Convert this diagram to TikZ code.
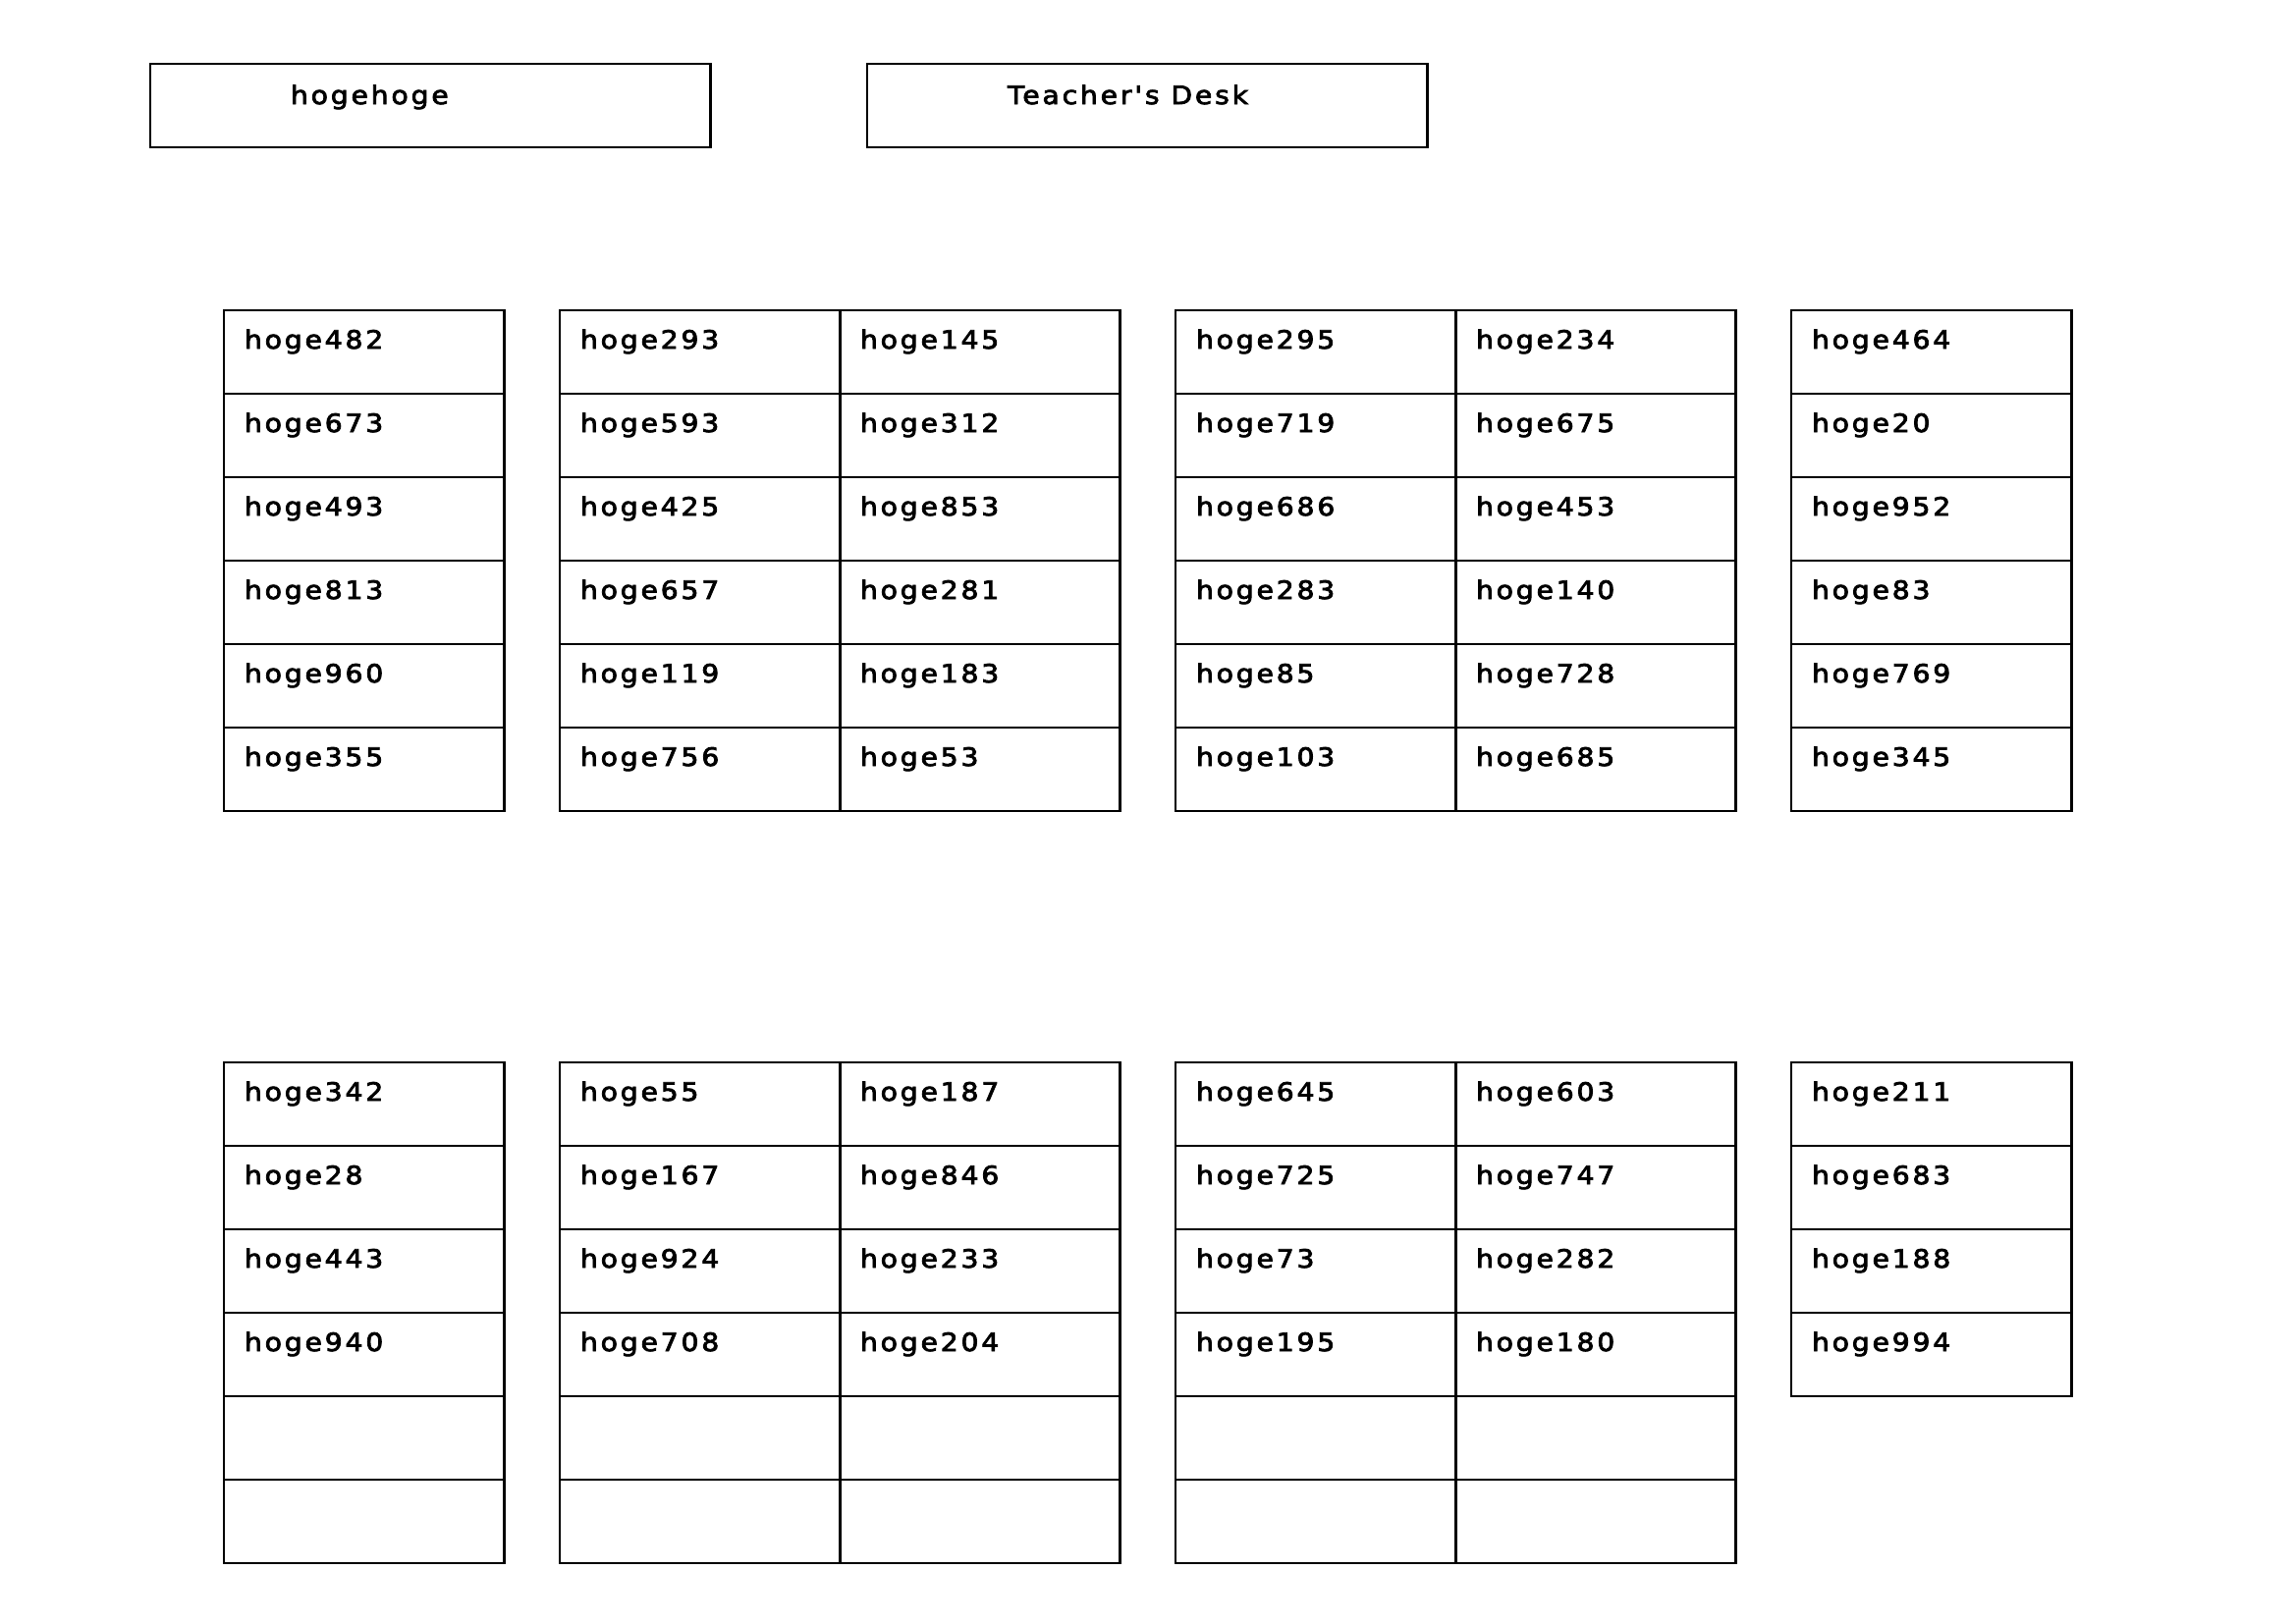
\documentclass[tikz,border=0pt]{standalone}
\usepackage{fontspec}
\newfontfamily\deskfont[LetterSpace=11,FakeStretch=1.1,FakeBold=3]{DejaVu Sans}
\begin{document}
\begin{tikzpicture}[x=0.01cm,y=-0.01cm,
  desk/.style={draw=black,line width=0.8pt,minimum width=2.85cm,minimum height=0.85cm,
    anchor=north west,inner sep=0pt,outer sep=0pt},
  widebox/.style={desk,minimum width=5.7cm},
  tag/.style={anchor=base west,inner sep=0pt,outer sep=0pt,
    font=\deskfont\fontsize{7.3}{8}\selectfont}]
\useasboundingbox (0,0) rectangle (2338,1653);

% front of the room
\node[widebox] (side) at (153,65) {};
\node[tag] (sidetext) at ([shift={(143,41)}]side.north west) {hogehoge};
\node[widebox] (teacher) at (883,65) {};
\node[tag] (teachertext) at ([shift={(143,41)}]teacher.north west) {Teacher's Desk};

% one column of desks: #1 name, #2 x, #3 top y, #4 occupants
\newcommand\deskcolumn[4]{%
  \foreach \who [count=\i from 0] in {#4} {
    \node[desk] (#1-\i) at (#2,#3+85*\i) {};
    \node[tag] (#1-\i-t) at ([shift={(21,39)}]#1-\i.north west) {\who};
  }}

% front block of desks
\deskcolumn{a1}{228}{316}{hoge482,hoge673,hoge493,hoge813,hoge960,hoge355}
\deskcolumn{a2}{570}{316}{hoge293,hoge593,hoge425,hoge657,hoge119,hoge756}
\deskcolumn{a3}{855}{316}{hoge145,hoge312,hoge853,hoge281,hoge183,hoge53}
\deskcolumn{a4}{1197}{316}{hoge295,hoge719,hoge686,hoge283,hoge85,hoge103}
\deskcolumn{a5}{1482}{316}{hoge234,hoge675,hoge453,hoge140,hoge728,hoge685}
\deskcolumn{a6}{1824}{316}{hoge464,hoge20,hoge952,hoge83,hoge769,hoge345}

% back block of desks
\deskcolumn{b1}{228}{1082}{hoge342,hoge28,hoge443,hoge940,{},{}}
\deskcolumn{b2}{570}{1082}{hoge55,hoge167,hoge924,hoge708,{},{}}
\deskcolumn{b3}{855}{1082}{hoge187,hoge846,hoge233,hoge204,{},{}}
\deskcolumn{b4}{1197}{1082}{hoge645,hoge725,hoge73,hoge195,{},{}}
\deskcolumn{b5}{1482}{1082}{hoge603,hoge747,hoge282,hoge180,{},{}}
\deskcolumn{b6}{1824}{1082}{hoge211,hoge683,hoge188,hoge994}
\end{tikzpicture}
\end{document}
